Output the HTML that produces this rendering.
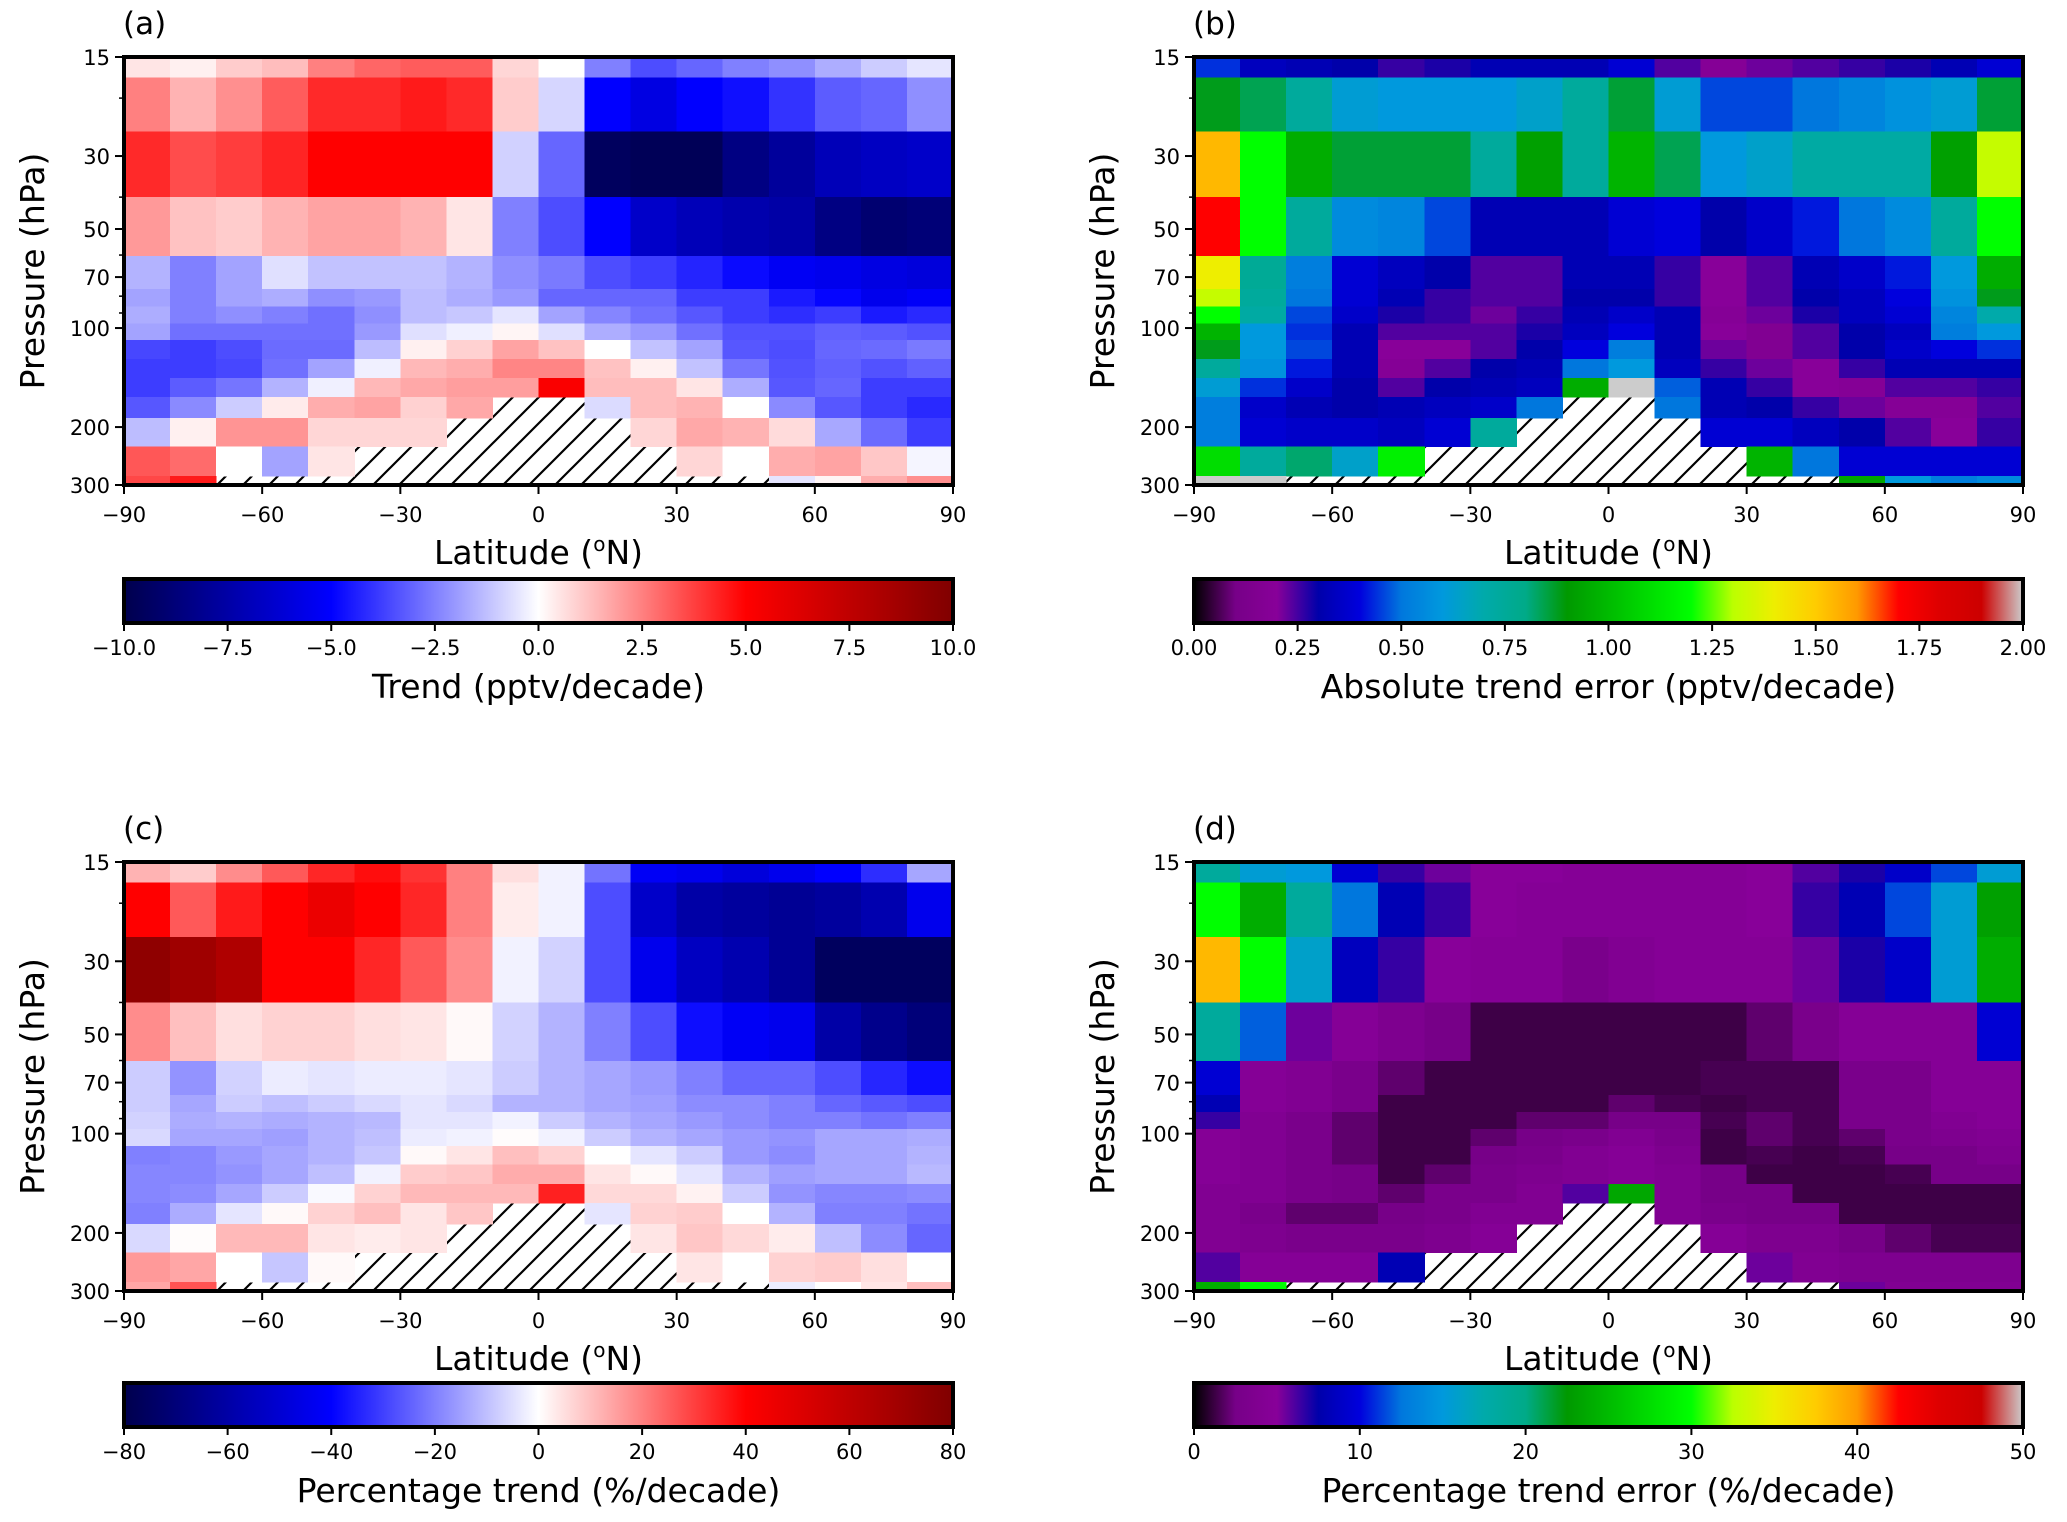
<!DOCTYPE html>
<html><head><meta charset="utf-8"><style>
html,body{margin:0;padding:0;background:#fff;}
svg{display:block;font-family:"DejaVu Sans","Liberation Sans",sans-serif;}
</style></head><body>
<svg id="fig" width="2067" height="1522" viewBox="0 0 2067 1522" xmlns="http://www.w3.org/2000/svg">
<defs>
<pattern id="hatch" patternUnits="userSpaceOnUse" width="26" height="26">
<rect width="26" height="26" fill="#fff"/>
<path d="M-2,28 L28,-2 M-15,15 L15,-15 M11,41 L41,11" stroke="#000" stroke-width="2.2"/>
</pattern>
</defs>
</svg>
<script>
const latEdges = [-90,-80,-70,-60,-50,-40,-30,-20,-10,0,10,20,30,40,50,60,70,80,90];
const presEdges = [15,17.3,25.3,40,60.3,76.2,86,96.8,108.8,124,142,162,188,229,282,300];
const N = null;
const aVals = [
[0.5,0.3,1,1.3,2.5,3,3.2,3.2,0.8,0,-2.5,-3.5,-3,-2.5,-2.2,-1.6,-1,-0.5],
[2.5,1.5,2.2,3.2,4.2,4.2,4.5,4.2,1,-0.8,-5,-5.8,-5,-4.7,-4,-3.2,-3,-2.2],
[4.2,3.5,3.8,4.3,5,5,5,5,-0.9,-3,-9.5,-9.7,-9.7,-8.5,-7.8,-7,-6.7,-6.5],
[2,1.2,1,1.5,1.8,1.8,1.5,0.5,-2.5,-3.5,-5,-6.5,-7,-7.3,-7.5,-8.5,-9,-8.8],
[-1.5,-2.5,-1.8,-0.6,-1.2,-1.2,-1.2,-1.5,-2.2,-2.6,-3.5,-3.8,-4.3,-4.8,-5.3,-5.5,-5.8,-6],
[-1.8,-2.5,-1.8,-1.6,-2.2,-2,-1.3,-1.6,-2,-3,-3,-3,-3.8,-3.8,-4.5,-4.9,-5.5,-5.2],
[-1.6,-2.5,-2.2,-2.5,-2.8,-2.2,-1.3,-1.1,-0.5,-1.8,-2.4,-2.8,-3.3,-3.8,-4.1,-3.8,-4.5,-4.2],
[-1.8,-2.8,-2.8,-2.8,-2.8,-2,-0.6,-0.3,0.2,-0.6,-1.6,-2,-2.8,-3.4,-3.4,-3.1,-3.2,-3.4],
[-3.6,-3.8,-3.5,-2.9,-2.9,-1.3,0.3,0.9,1.8,1.2,0,-1.2,-1.8,-3.3,-3.5,-3,-2.9,-2.6],
[-3.8,-3.8,-3.6,-2.8,-1.8,-0.3,1.4,1.6,2.4,2.4,1.2,0.3,-1.2,-2.7,-3.4,-3.1,-3.4,-3.1],
[-3.8,-3.2,-2.7,-1.5,-0.3,1.4,1.7,1.9,1.9,5.2,1.3,1.3,0.5,-1.6,-3.3,-3,-3.8,-3.8],
[-3.3,-2.3,-1,0.4,1.6,1.8,0.9,1.7,N,N,-0.7,1.3,1.5,0,-2.3,-3.3,-3.8,-4.2],
[-1.3,0.3,2.1,2.1,0.8,0.8,0.8,N,N,N,N,0.8,1.7,1.5,0.7,-1.7,-2.9,-3.8],
[3.3,2.9,0,-1.8,0.5,N,N,N,N,N,N,N,0.8,0,1.6,1.8,1.1,-0.2],
[3.6,4.5,N,N,N,N,N,N,N,N,N,N,N,N,-0.5,0.2,1.6,2.2]
];
const bVals = [
[0.44,0.34,0.32,0.3,0.26,0.28,0.32,0.32,0.32,0.38,0.24,0.18,0.22,0.24,0.26,0.28,0.32,0.38],
[0.88,0.84,0.74,0.62,0.6,0.6,0.6,0.64,0.74,0.86,0.62,0.46,0.46,0.5,0.54,0.58,0.62,0.86],
[1.54,1.2,0.96,0.86,0.86,0.86,0.74,0.92,0.74,0.98,0.84,0.6,0.64,0.72,0.72,0.72,0.92,1.32],
[1.7,1.2,0.74,0.56,0.54,0.46,0.32,0.32,0.32,0.38,0.4,0.3,0.36,0.42,0.5,0.56,0.74,1.2],
[1.4,0.76,0.52,0.38,0.34,0.3,0.24,0.24,0.32,0.32,0.26,0.2,0.24,0.32,0.36,0.42,0.6,0.96],
[1.32,0.74,0.5,0.38,0.32,0.26,0.24,0.24,0.3,0.3,0.26,0.2,0.24,0.3,0.34,0.4,0.58,0.88],
[1.2,0.72,0.46,0.36,0.28,0.26,0.22,0.26,0.32,0.36,0.32,0.18,0.22,0.28,0.34,0.38,0.54,0.7],
[0.98,0.6,0.44,0.32,0.24,0.24,0.24,0.28,0.34,0.4,0.32,0.2,0.16,0.24,0.3,0.34,0.52,0.6],
[0.88,0.6,0.46,0.32,0.2,0.2,0.24,0.3,0.4,0.52,0.32,0.22,0.16,0.24,0.3,0.36,0.4,0.44],
[0.74,0.58,0.42,0.32,0.18,0.24,0.3,0.32,0.5,0.6,0.34,0.26,0.22,0.2,0.26,0.32,0.32,0.32],
[0.62,0.44,0.36,0.3,0.24,0.3,0.32,0.34,0.96,2.0,0.48,0.32,0.26,0.2,0.18,0.24,0.24,0.26],
[0.52,0.36,0.32,0.3,0.32,0.34,0.36,0.5,N,N,0.5,0.32,0.3,0.26,0.22,0.18,0.18,0.24],
[0.52,0.38,0.36,0.36,0.34,0.38,0.74,N,N,N,N,0.38,0.38,0.34,0.3,0.24,0.2,0.26],
[1.1,0.74,0.82,0.64,1.16,N,N,N,N,N,N,N,0.98,0.5,0.38,0.38,0.38,0.38],
[2.0,2.0,N,N,N,N,N,N,N,N,N,N,N,N,0.94,0.6,0.52,0.56]
];
const cVals = [
[12,8,18,26,34,38,32,20,5,-2,-22,-42,-44,-48,-44,-40,-33,-14],
[40,26,36,40,46,40,34,20,3,-2,-28,-52,-60,-62,-64,-62,-58,-44],
[75,70,65,40,40,34,26,18,-2,-7,-28,-44,-54,-58,-64,-76,-76,-76],
[18,10,5,7,7,5,4,1,-7,-12,-20,-28,-38,-42,-44,-60,-66,-70],
[-8,-17,-7,-3,-4,-3,-3,-4,-8,-12,-14,-16,-20,-24,-24,-28,-34,-38],
[-8,-14,-8,-10,-8,-6,-4,-6,-12,-12,-14,-15,-18,-18,-20,-24,-26,-28],
[-7,-13,-12,-13,-12,-11,-4,-4,-2,-8,-12,-14,-16,-18,-20,-20,-22,-20],
[-6,-14,-14,-15,-12,-10,-3,-2,0.5,-2,-8,-12,-14,-16,-17,-14,-14,-13],
[-20,-19,-16,-14,-12,-9,1,4,10,7,0,-4,-8,-16,-18,-14,-14,-12],
[-19,-19,-17,-14,-10,-2,8,9,13,13,4,1,-4,-12,-15,-14,-14,-11],
[-19,-18,-14,-8,-1,7,11,11,11,35,6,6,2,-8,-17,-19,-19,-18],
[-20,-13,-4,1,7,10,4,9,N,N,-4,7,8,0,-12,-20,-20,-22],
[-6,0.5,11,11,4,3,4,N,N,N,N,4,9,6,3,-10,-18,-24],
[16,14,0,-9,1,N,N,N,N,N,N,N,4,0,7,8,5,0],
[14,27,N,N,N,N,N,N,N,N,N,N,N,N,-3,0,4,10]
];
const dVals = [
[18.5,15.5,15,9.5,6.5,5.5,5,5,4.5,4.5,4.5,4.5,5,6,7,9,11.5,15.5],
[30,24,18.5,12.5,8,6.5,5,4.5,4.5,4.5,4.5,4.5,5,6.5,8,11.5,15.5,23],
[38.5,30,16,8.5,6.5,5,4.5,4.5,3,4,4.5,4.5,4.5,5.5,7,9,15.5,24],
[18.5,12,5.5,4.5,3.5,2.5,1.3,1.3,1.3,1.3,1.3,1.3,2,3,4.5,4.5,4.5,9.5],
[9.5,4.5,4,3,2,1.3,1.3,1.3,1.3,1.3,1.3,1.5,1.5,1.5,3,3,4.5,4.5],
[8,4.5,4,3,1.3,1.3,1.3,1.3,1.3,2,1.5,1.3,1.5,1.5,3,3,4.5,4.5],
[6.5,4,3,2,1.3,1.3,1.3,2,2,2.5,2.5,1.5,2,1.5,3,3,4,4.5],
[4.5,4,3,2,1.3,1.3,2,2.5,3,4,3,1.3,2,1.5,2,3,3.5,4],
[4.5,4,3,2,1.3,1.3,2.5,3,4,4.5,3.5,1.3,1.5,1.3,1.5,2.5,2.5,3.5],
[4.5,4,3,2.5,1.3,2,3,3.5,4,4.5,4,2.5,1.3,1.3,1.3,1.5,2.5,2.5],
[4,4,3,2.5,2,3,3,4,6,23.5,4,2.5,2.5,1.3,1.3,1.3,1.3,1.3],
[4,3,2,2,2.5,3,4,4,N,N,4,3,2.5,2.5,1.3,1.3,1.3,1.3],
[4,3.5,3,3,3,3.5,4.5,N,N,N,N,4.5,3.5,3.5,2.5,2,1.5,1.5],
[6,4.5,4.5,4.5,8,N,N,N,N,N,N,N,5.5,4,3.5,3.5,3.5,3.5],
[24,30,N,N,N,N,N,N,N,N,N,N,N,N,5.5,4,4,4]
];
const aTicks = ["−10.0","−7.5","−5.0","−2.5","0.0","2.5","5.0","7.5","10.0"];
const bTicks = ["0.00","0.25","0.50","0.75","1.00","1.25","1.50","1.75","2.00"];
const cTicks = ["−80","−60","−40","−20","0","20","40","60","80"];
const dTicks = ["0","10","20","30","40","50"];
const latTicks = [-90,-60,-30,0,30,60,90];
const presTicks = [15,30,50,70,100,200,300];
const presMinor = [20,40,60,80,90];

const seismicStops = [[0,0,0,0.3],[0.25,0,0,1],[0.5,1,1,1],[0.75,1,0,0],[1,0.5,0,0]];
const nipyR = [0,0.4667,0.5333,0,0,0,0,0,0,0,0,0,0,0.7333,0.9333,1,1,1,0.8667,0.8,0.8];
const nipyG = [0,0,0,0,0,0.4667,0.6,0.6667,0.6667,0.6,0.7333,0.8667,1,1,0.9333,0.8,0.6,0,0,0,0.8];
const nipyB = [0,0.5333,0.6,0.6667,0.8667,0.8667,0.8667,0.6667,0.5333,0,0,0,0,0,0,0,0,0,0,0,0.8];

function hex(r,g,b){return "rgb("+Math.round(r*255)+","+Math.round(g*255)+","+Math.round(b*255)+")";}
function seismic(t){t=Math.max(0,Math.min(1,t));for(let i=0;i<seismicStops.length-1;i++){const a=seismicStops[i],b=seismicStops[i+1];if(t<=b[0]){const f=(t-a[0])/(b[0]-a[0]);return hex(a[1]+f*(b[1]-a[1]),a[2]+f*(b[2]-a[2]),a[3]+f*(b[3]-a[3]));}}return hex(.5,0,0);}
function nipy(t){t=Math.max(0,Math.min(1,t));const x=t*20;const i=Math.min(19,Math.floor(x));const f=x-i;return hex(nipyR[i]+f*(nipyR[i+1]-nipyR[i]),nipyG[i]+f*(nipyG[i+1]-nipyG[i]),nipyB[i]+f*(nipyB[i+1]-nipyB[i]));}

const svg=document.getElementById('fig');
const NS="http://www.w3.org/2000/svg";
function el(tag,attrs,parent){const e=document.createElementNS(NS,tag);for(const k in attrs)e.setAttribute(k,attrs[k]);(parent||svg).appendChild(e);return e;}

const panels=[
{id:'a',vals:aVals,x0:124,x1:953,y0:57,y1:485,cmap:seismic,vmin:-10,vmax:10,ticks:aTicks,title:'Trend (pptv/decade)',cbY:579,grad:'seis'},
{id:'b',vals:bVals,x0:1194,x1:2023,y0:57,y1:485,cmap:nipy,vmin:0,vmax:2,ticks:bTicks,title:'Absolute trend error (pptv/decade)',cbY:579,grad:'nipy'},
{id:'c',vals:cVals,x0:124,x1:953,y0:862,y1:1291,cmap:seismic,vmin:-80,vmax:80,ticks:cTicks,title:'Percentage trend (%/decade)',cbY:1383,grad:'seis'},
{id:'d',vals:dVals,x0:1194,x1:2023,y0:862,y1:1291,cmap:nipy,vmin:0,vmax:50,ticks:dTicks,title:'Percentage trend error (%/decade)',cbY:1383,grad:'nipy'}
];

const defs=svg.querySelector('defs');
const gs=el('linearGradient',{id:'seis',x1:0,x2:1,y1:0,y2:0},defs);
for(let i=0;i<=40;i++){el('stop',{offset:(i/40),'stop-color':seismic(i/40)},gs);}
const gn=el('linearGradient',{id:'nipy',x1:0,x2:1,y1:0,y2:0},defs);
for(let i=0;i<=80;i++){el('stop',{offset:(i/80),'stop-color':nipy(i/80)},gn);}

panels.forEach(P=>{
  const xs=lat=>P.x0+(lat+90)/180*(P.x1-P.x0);
  const ys=p=>P.y0+Math.log(p/15)/Math.log(20)*(P.y1-P.y0);
  const g=el('g',{});
  
  
  const bg=el('rect',{x:P.x0,y:P.y0,width:P.x1-P.x0,height:P.y1-P.y0,fill:'url(#hatch)'},g);
  
  
  const cells=el('g',{'shape-rendering':'crispEdges'},g);
  
  
  P.vals.forEach((row,ri)=>{row.forEach((v,ci)=>{
    if(v===null)return;
    const xa=xs(latEdges[ci]),xb=xs(latEdges[ci+1]),ya=ys(presEdges[ri]),yb=ys(presEdges[ri+1]);
    const r=el('rect',{x:xa,y:ya,width:xb-xa+0.5,height:yb-ya+0.5,fill:P.cmap((v-P.vmin)/(P.vmax-P.vmin))},cells);
    
    
  });});
  const fr=el('rect',{x:P.x0,y:P.y0,width:P.x1-P.x0,height:P.y1-P.y0,fill:'none',stroke:'#000','stroke-width':4},g);
  
  
  const pl=el('text',{x:P.x0-1,y:P.y0-23,'font-size':31},g);pl.textContent='('+P.id+')';
  
  
  latTicks.forEach(l=>{
    el('line',{x1:xs(l),x2:xs(l),y1:P.y1,y2:P.y1+9,stroke:'#000','stroke-width':2},g);
    const t=el('text',{x:xs(l),y:P.y1+37,'font-size':21,'text-anchor':'middle'},g);
    t.textContent=(l<0?'−'+(-l):''+l);
    
    
  });
  const xt=el('text',{x:(P.x0+P.x1)/2,y:P.y1+79,'font-size':33,'text-anchor':'middle'},g);
  xt.innerHTML='Latitude (<tspan font-size="20" dy="-13">o</tspan><tspan dy="13">N)</tspan>';
  
  
  presTicks.forEach(p=>{
    el('line',{x1:P.x0-9,x2:P.x0,y1:ys(p),y2:ys(p),stroke:'#000','stroke-width':2},g);
    const t=el('text',{x:P.x0-14,y:ys(p)+8,'font-size':21,'text-anchor':'end'},g);
    t.textContent=p;
    
    
  });
  presMinor.forEach(p=>{el('line',{x1:P.x0-5,x2:P.x0,y1:ys(p),y2:ys(p),stroke:'#000','stroke-width':1.5},g);});
  const yt=el('text',{x:0,y:0,'font-size':33,'text-anchor':'middle',transform:'translate('+(P.x0-80)+','+((P.y0+P.y1)/2)+') rotate(-90)'},g);
  yt.textContent='Pressure (hPa)';
  
  
  const cb=el('rect',{x:P.x0,y:P.cbY,width:P.x1-P.x0,height:44,fill:'url(#'+P.grad+')',stroke:'#000','stroke-width':4},g);
  
  
  const n=P.ticks.length;
  P.ticks.forEach((lab,i)=>{
    const x=P.x0+i/(n-1)*(P.x1-P.x0);
    el('line',{x1:x,x2:x,y1:P.cbY+44,y2:P.cbY+52,stroke:'#000','stroke-width':2},g);
    const t=el('text',{x:x,y:P.cbY+76,'font-size':21,'text-anchor':'middle'},g);
    t.textContent=lab;
    
    
  });
  const ct=el('text',{x:(P.x0+P.x1)/2,y:P.cbY+119,'font-size':33,'text-anchor':'middle'},g);
  ct.textContent=P.title;
  
  
});
</script>
</body></html>
